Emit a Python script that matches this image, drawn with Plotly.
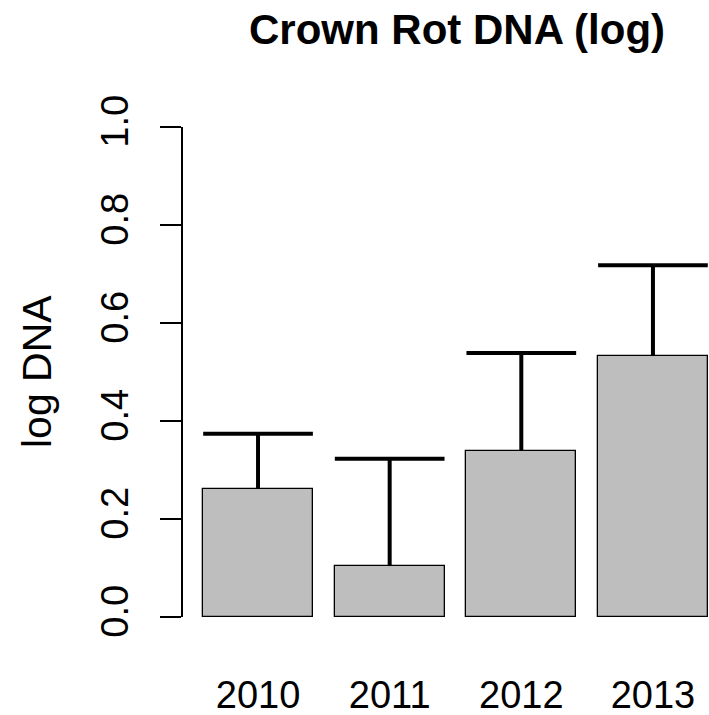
import plotly.graph_objects as go

# Crown rot DNA (log scale) by year: mean and standard error
years = ["2010", "2011", "2012", "2013"]
mean_log_dna = [0.262, 0.104, 0.339, 0.533]
se_log_dna = [0.112, 0.219, 0.200, 0.185]
y_ticks = [0.0, 0.2, 0.4, 0.6, 0.8, 1.0]

# barplot-style layout: unit-width bars separated by 0.2
bar_width = 1.0
space = 0.2
centers = [space + bar_width / 2 + i * (bar_width + space) for i in range(len(years))]

W, H = 709, 715
ML, MR, MT, MB = 183, 0, 127, 98
px_per_unit = 109.7
x_lo = space - 0.04 * (len(years) * (bar_width + space) - space)
x_hi = x_lo + (W - ML - MR) / px_per_unit

FONT = "Liberation Sans, Arial, sans-serif"

fig = go.Figure()
fig.add_trace(go.Bar(
    x=centers, y=mean_log_dna, width=bar_width,
    marker=dict(color="#BEBEBE", line=dict(color="black", width=1.3)),
    hoverinfo="skip",
))

# upper error bars: stem from the bar top plus a cap spanning the bar
ex, ey = [], []
for c, m, s in zip(centers, mean_log_dna, se_log_dna):
    top = m + s
    ex += [c, c, None, c - bar_width / 2, c + bar_width / 2, None]
    ey += [m, top, None, top, top, None]
fig.add_trace(go.Scatter(
    x=ex, y=ey, mode="lines",
    line=dict(color="black", width=4),
    hoverinfo="skip",
))

fig.update_layout(
    width=W, height=H,
    margin=dict(l=ML, r=MR, t=MT, b=MB, pad=0),
    paper_bgcolor="white", plot_bgcolor="white",
    showlegend=False, bargap=0,
    font=dict(family=FONT, color="black"),
    xaxis=dict(
        range=[x_lo, x_hi], tickmode="array", tickvals=centers, ticktext=years,
        showline=False, showgrid=False, zeroline=False, ticks="",
        tickfont=dict(size=38, family=FONT), ticklabelstandoff=52,
    ),
    yaxis=dict(
        range=[0, 1], tickmode="array", tickvals=y_ticks,
        ticktext=[f"{v:.1f}" for v in y_ticks], tickangle=-90,
        showline=True, linecolor="black", linewidth=1.5,
        ticks="outside", ticklen=21, tickwidth=1.5, tickcolor="black",
        showgrid=False, zeroline=False,
        tickfont=dict(size=38, family=FONT), ticklabelstandoff=17,
    ),
    annotations=[
        dict(text="<b>Crown Rot DNA (log)</b>", xref="paper", yref="paper",
             x=(456.7 - ML) / (W - ML - MR), y=1, yshift=98,
             xanchor="center", yanchor="middle", showarrow=False,
             font=dict(size=42, family=FONT, color="black")),
        dict(text="log DNA", xref="paper", yref="paper",
             x=0, xshift=37 - ML, y=0.5, xanchor="center", yanchor="middle",
             textangle=-90, showarrow=False,
             font=dict(size=41, family=FONT, color="black")),
    ],
)

fig.write_html("out.html")
